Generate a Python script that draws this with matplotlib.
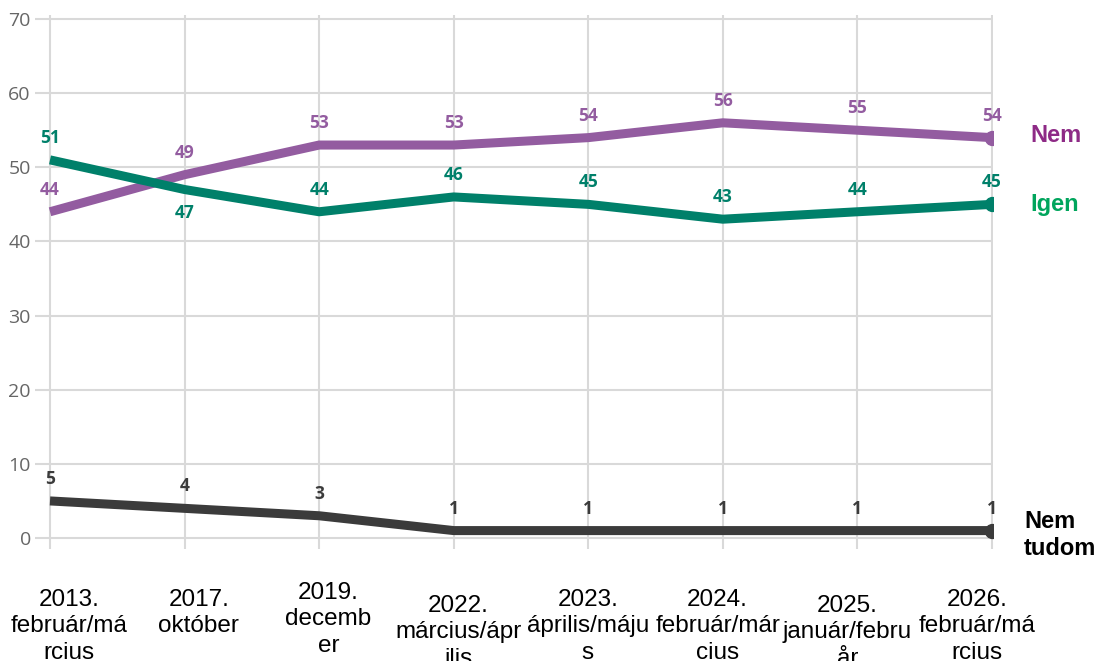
import numpy as np
import matplotlib
matplotlib.use("Agg")
import matplotlib.pyplot as plt

# adatok
periods = ["2013.\nfebruár/má\nrcius", "2017.\noktóber", "2019.\ndecemb\ner",
           "2022.\nmárcius/ápr\nilis", "2023.\náprilis/máju\ns",
           "2024.\nfebruár/már\ncius", "2025.\njanuár/febru\når",
           "2026.\nfebruár/má\nrcius"]
nem = [44, 49, 53, 53, 54, 56, 55, 54]
igen = [51, 47, 44, 46, 45, 43, 44, 45]
nem_tudom = [5, 4, 3, 1, 1, 1, 1, 1]
igen_below = [False, True, False, False, False, False, False, False]
y_ticks = [0, 10, 20, 30, 40, 50, 60, 70]
label_shift = [0, 0, -7, 6, 0, 0, 6, 0]  # px, tengelyfeliratok

c_nem = "#935ca0"
c_igen = "#00806a"
c_nt = "#3b3b3b"
grid_c = "#d9d9d9"

W, H = 1099, 661
fig = plt.figure(figsize=(W / 100, H / 100), dpi=100)
x0, x1 = -0.05, 7.01
y0, y1 = -0.5, 70.5
pxx = (992 - 50) / 7
pxy = (538 - 19) / 70
left = 50 + x0 * pxx
right = 50 + x1 * pxx
bottom = 538 - y0 * pxy
top = 538 - y1 * pxy
ax = fig.add_axes([left / W, 1 - bottom / H, (right - left) / W, (bottom - top) / H])
ax.set_xlim(x0, x1)
ax.set_ylim(y0, y1)

x = np.arange(len(periods))
for vals, col in [(nem, c_nem), (igen, c_igen), (nem_tudom, c_nt)]:
    ax.plot(x, vals, color=col, lw=6.5, solid_capstyle="butt", zorder=3)
    ax.plot(x[-1], vals[-1], "o", color=col, ms=10, zorder=4)

lab_font = dict(family=["Open Sans", "DejaVu Sans"], fontsize=12.5, fontweight="bold")
for i in x:
    ax.annotate(str(nem[i]), (i, nem[i]), xytext=(0, 22), textcoords="offset pixels",
                ha="center", va="center", color=c_nem, **lab_font)
    dy = -23 if igen_below[i] else 22
    ax.annotate(str(igen[i]), (i, igen[i]), xytext=(0, dy), textcoords="offset pixels",
                ha="center", va="center", color=c_igen, **lab_font)
    ax.annotate(str(nem_tudom[i]), (i, nem_tudom[i]), xytext=(0, 22), textcoords="offset pixels",
                ha="center", va="center", color=c_nt, **lab_font)

ax.set_yticks(y_ticks)
ax.set_yticklabels([str(v) for v in y_ticks], family=["Open Sans", "DejaVu Sans"],
                   fontsize=14, color="#666666")
ax.set_xticks(x)
ax.set_xticklabels([])
ax.tick_params(axis="y", length=6, color=grid_c, width=1.5, pad=3)
ax.tick_params(axis="x", length=5, color=grid_c, width=1.5)
ax.grid(True, color=grid_c, lw=1.5, zorder=0)
for s in ax.spines.values():
    s.set_visible(False)

# kategóriafeliratok: a szövegdobozok egyenletesen 69 és 977 px között
for i, lab in enumerate(periods):
    dx = (69 + i * (977 - 69) / 7) - (50 + i * pxx)
    ax.annotate(lab, (i, 0), xycoords=("data", "axes fraction"),
                xytext=(dx, -47 - label_shift[i]), textcoords="offset pixels",
                ha="center", va="top", multialignment="center",
                family="Liberation Sans", fontsize=17.5, linespacing=1.26, color="black",
                annotation_clip=False)

side = dict(family="Liberation Sans", fontsize=17, fontweight="bold")
fig.text(1030 / W, 1 - 136 / H, "Nem", color="#8e2a86", ha="left", va="center", **side)
fig.text(1030 / W, 1 - 204 / H, "Igen", color="#00a55c", ha="left", va="center", **side)
fig.text(1024 / W, 1 - 535 / H, "Nem\ntudom", color="black", ha="left", va="center",
         linespacing=1.2, **side)

fig.savefig("out.png", dpi=100)
